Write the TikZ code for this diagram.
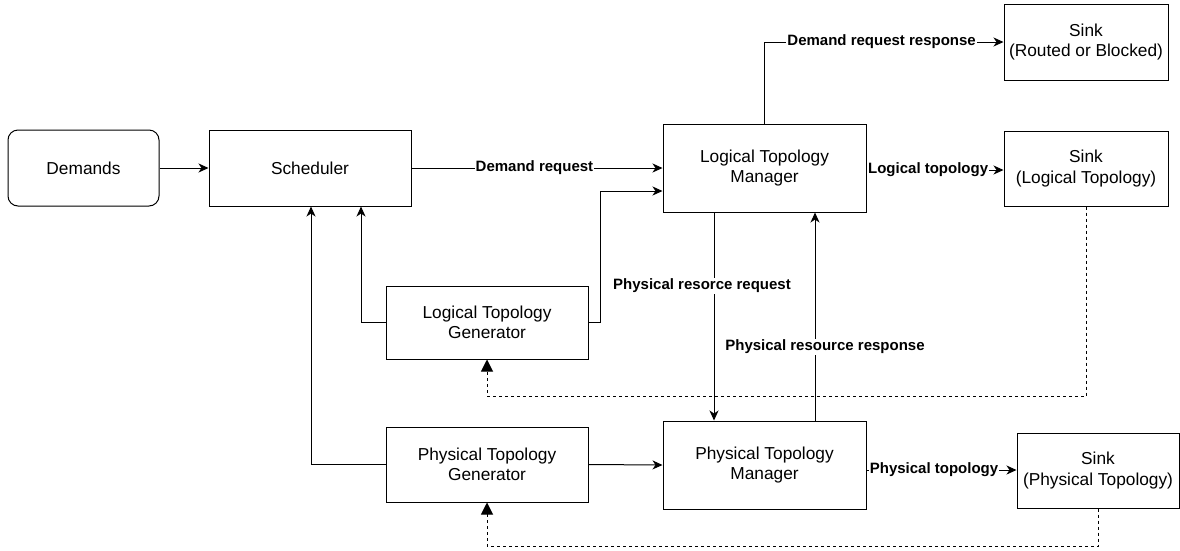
\documentclass[tikz,border=0pt]{standalone}
\usepackage{fontspec}
\setmainfont{Liberation Sans}
\usetikzlibrary{arrows.meta}

\tikzset{
  box/.style={draw=black, line width=1pt, fill=white, inner sep=0pt, align=center,
              font=\fontsize{17.3}{20.5}\selectfont},
  arr/.style={draw=black, line width=1pt, -{Stealth[length=10pt,width=9pt,inset=3pt]}},
  feedback/.style={draw=black, line width=1pt, dash pattern=on 3pt off 3pt,
                   -{Triangle[length=12pt,width=12pt]}},
  lbl/.style={fill=white, inner sep=1pt, font=\bfseries\fontsize{15}{17}\selectfont}
}

\begin{document}
\begin{tikzpicture}[x=1pt,y=-1pt]
\useasboundingbox (0,0) rectangle (1180,550);

% blocks
\node[box, rounded corners=10pt, minimum width=151pt, minimum height=76pt] (dem) at (83.5,168) {Demands};
\node[box, minimum width=202pt, minimum height=76pt] (sch) at (310,168) {Scheduler};
\node[box, minimum width=203pt, minimum height=88pt] (ltm) at (764.5,168) {Logical Topology\\Manager};
\node[box, minimum width=164pt, minimum height=76pt] (sinkr) at (1086,42) {Sink\\(Routed or Blocked)};
\node[box, minimum width=164pt, minimum height=75pt] (sinkl) at (1086,168.5) {Sink\\(Logical Topology)};
\node[box, minimum width=202pt, minimum height=73pt] (ltg) at (487,322.5) {Logical Topology\\Generator};
\node[box, minimum width=202pt, minimum height=75pt] (ptg) at (487,464.5) {Physical Topology\\Generator};
\node[box, minimum width=203pt, minimum height=88pt] (ptm) at (764.5,465) {Physical Topology\\Manager};
\node[box, minimum width=162pt, minimum height=75pt] (sinkp) at (1098,470.5) {Sink\\(Physical Topology)};

% main flow
\draw[arr] (dem.east) -- (sch.west);
\draw[arr] (sch.east) -- node[lbl, pos=0.49] {Demand request} (ltm.west);
\draw[arr] (ltg.east) -- (ltg.east -| 600,0) -- (600,191) -- (ltm.west |- 0,191);
\draw[arr] (ltg.west) -| (sch.south -| 361,0);
\draw[arr] (ptg.west) -| (sch.south -| 311,0);
\draw[arr] (ltm.north) |- node[lbl, pos=0.745] {Demand request response} (sinkr.west);
\draw[arr] (ltm.east |- 0,170) -- node[lbl, pos=0.45] {Logical topology} (sinkl.west |- 0,170);
\draw[arr] (ptg.east) -- (ptm.west);
\draw[arr] (ptm.east |- 0,470) -- node[lbl, pos=0.45] {Physical topology} (sinkp.west |- 0,470);

% resource request / response
\draw[arr] (ltm.south -| 714,0) -- (ptm.north -| 714,0);
\node[lbl] (reqlbl) at (702,286) {Physical resorce request};
\draw[arr] (ptm.north -| 815,0) -- (ltm.south -| 815,0);
\node[lbl] (reslbl) at (825,347) {Physical resource response};

% topology feedback
\draw[feedback] (sinkl.south) -- (sinkl.south |- 0,396) -| (ltg.south);
\draw[feedback] (sinkp.south) -- (sinkp.south |- 0,546) -| (ptg.south);
\end{tikzpicture}
\end{document}
